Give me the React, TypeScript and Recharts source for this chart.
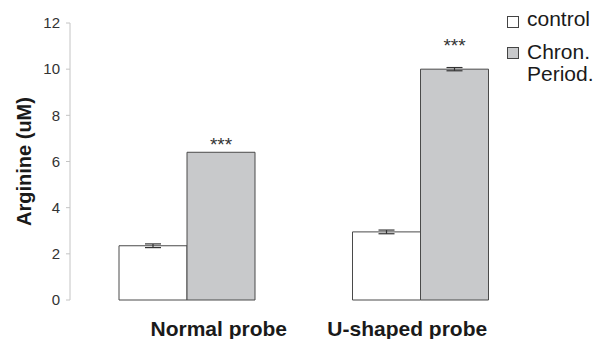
import { BarChart, Bar, XAxis, YAxis, ErrorBar, LabelList } from "recharts";

const probes = ["Normal probe", "U-shaped probe"];
const controlValues = [2.35, 2.95];
const controlErrors = [0.08, 0.08];
const chronValues = [6.4, 10.0];
const chronErrors = [0, 0.07];
const significance = ["***", "***"];
const yTicks = [0, 2, 4, 6, 8, 10, 12];

const data = probes.map((probe, i) => ({
  probe,
  control: controlValues[i],
  controlErr: controlErrors[i],
  chron: chronValues[i],
  chronErr: chronErrors[i],
  sig: significance[i],
}));

const FONT = "'Liberation Sans', Arial, Helvetica, sans-serif";

// the original labels sit a bit off the group centres
const tickShift = [32, -13];
const starLift = [1, 17];

const XTick = ({ x, y, payload, index }: any) => (
  <text
    x={x + tickShift[index]}
    y={y + 36}
    textAnchor="middle"
    fontFamily={FONT}
    fontSize={21}
    fontWeight="bold"
    fill="#1a1a1a"
  >
    {payload.value}
  </text>
);

const YLabel = ({ viewBox }: any) => {
  const cx = viewBox.x + 31;
  const cy = viewBox.y + viewBox.height / 2;
  return (
    <text
      x={cx}
      y={cy}
      transform={`rotate(-90, ${cx}, ${cy})`}
      textAnchor="middle"
      fontFamily={FONT}
      fontSize={20}
      fontWeight="bold"
      fill="#1a1a1a"
    >
      Arginine (uM)
    </text>
  );
};

const Stars = ({ x, y, width, index, value }: any) => (
  <text
    x={x + width / 2}
    y={y - starLift[index]}
    textAnchor="middle"
    fontFamily={FONT}
    fontSize={19}
    fill="#333"
  >
    {value}
  </text>
);

const swatch = (fill: string, top: number) => ({
  width: 10,
  height: 10,
  border: "1px solid #444",
  background: fill,
  marginTop: top,
  marginRight: 8,
  flex: "none",
});

const LegendBox = () => (
  <div
    style={{
      position: "absolute",
      left: 507,
      top: 8,
      fontFamily: FONT,
      fontSize: 21,
      color: "#1a1a1a",
      lineHeight: "22px",
    }}
  >
    <div style={{ display: "flex", alignItems: "flex-start", marginBottom: 11 }}>
      <span style={swatch("#ffffff", 8)} />
      <span>control</span>
    </div>
    <div style={{ display: "flex", alignItems: "flex-start" }}>
      <span style={swatch("#c8c9cb", 6)} />
      <span>
        Chron.
        <br />
        Period.
      </span>
    </div>
  </div>
);

export default function App() {
  return (
    <div style={{ position: "absolute", left: 0, top: 0, width: 598, height: 339, background: "#fff" }}>
      <BarChart
        width={598}
        height={339}
        data={data}
        margin={{ top: 23, right: 61, bottom: 0, left: 0 }}
        barCategoryGap={49}
        barGap={0}
      >
        <XAxis
          dataKey="probe"
          axisLine={false}
          tickLine={false}
          tickSize={0}
          tickMargin={0}
          height={39}
          tick={<XTick />}
          interval={0}
        />
        <YAxis
          domain={[0, 12]}
          ticks={yTicks}
          width={70}
          axisLine={{ stroke: "#c4c4c4" }}
          tickLine={{ stroke: "#c4c4c4" }}
          tickSize={4}
          tickMargin={6}
          tick={{ fontFamily: FONT, fontSize: 15, fill: "#333" }}
          label={<YLabel />}
        />
        <Bar dataKey="control" fill="#ffffff" stroke="#4a4a4a" strokeWidth={1} isAnimationActive={false}>
          <ErrorBar dataKey="controlErr" width={8} stroke="#333" strokeWidth={1.2} />
        </Bar>
        <Bar dataKey="chron" fill="#c8c9cb" stroke="#4a4a4a" strokeWidth={1} isAnimationActive={false}>
          <ErrorBar dataKey="chronErr" width={8} stroke="#333" strokeWidth={1.2} />
          <LabelList dataKey="sig" content={<Stars />} />
        </Bar>
      </BarChart>
      <LegendBox />
    </div>
  );
}
